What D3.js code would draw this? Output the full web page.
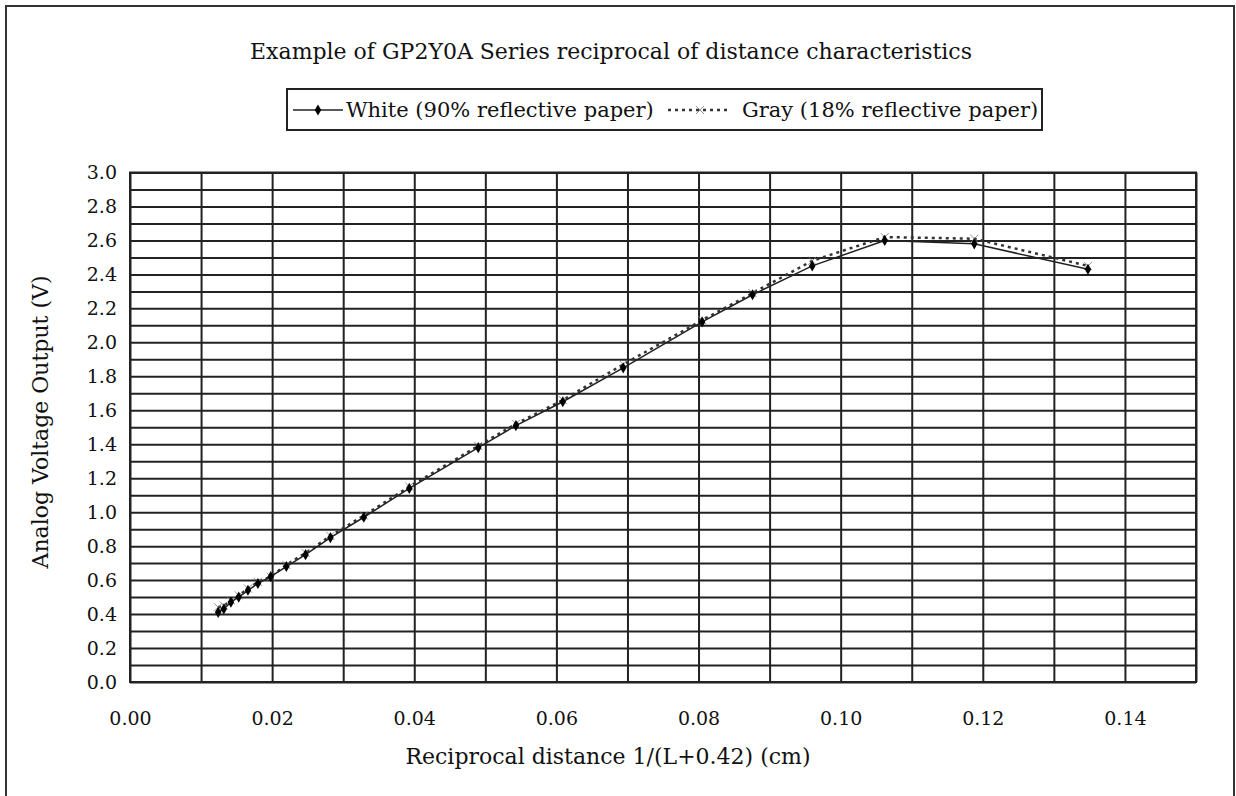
<!DOCTYPE html>
<html>
<head>
    <title>GP2Y0A reciprocal distance characteristics</title>
    <script src="https://d3js.org/d3.v7.min.js"></script>
    <style>
        body { margin: 0; background: #fff; }
        svg { display: block; }
        text { font-family: "DejaVu Serif", "Liberation Serif", serif; fill: #111; }
    </style>
</head>
<body>
    <div id="chart"></div>

    <script>
    // reciprocal distance 1/(L+0.42)
    const recip = [0.0124, 0.0132, 0.0142, 0.0153, 0.0166, 0.0180, 0.0198, 0.0220, 0.0247, 0.0282, 0.0329,
                   0.0393, 0.0490, 0.0543, 0.0609, 0.0694, 0.0805, 0.0876, 0.0960, 0.1062, 0.1188, 0.1348];
    const whiteV = [0.41, 0.43, 0.47, 0.50, 0.54, 0.58, 0.62, 0.68, 0.75, 0.85, 0.97,
                    1.14, 1.38, 1.51, 1.65, 1.85, 2.12, 2.28, 2.45, 2.60, 2.58, 2.43];
    const grayV  = [0.44, 0.45, 0.48, 0.51, 0.55, 0.59, 0.62, 0.69, 0.76, 0.86, 0.98,
                    1.15, 1.39, 1.52, 1.66, 1.87, 2.13, 2.29, 2.48, 2.62, 2.61, 2.45];

    const xTicks = [0, 0.02, 0.04, 0.06, 0.08, 0.10, 0.12, 0.14];
    const yTicks = [0, 0.2, 0.4, 0.6, 0.8, 1.0, 1.2, 1.4, 1.6, 1.8, 2.0, 2.2, 2.4, 2.6, 2.8, 3.0];
    const seriesNames = ["White (90% reflective paper)", "Gray (18% reflective paper)"];

    const W = 1236, H = 796;
    const margin = { top: 172.5, right: 40, bottom: 114, left: 130 };
    const width = W - margin.left - margin.right;
    const height = H - margin.top - margin.bottom;

    const root = d3.select("#chart").append("svg")
        .attr("width", W)
        .attr("height", H);

    // outer frame (open at the bottom of the picture)
    root.append("rect")
        .attr("x", 6).attr("y", 6)
        .attr("width", W - 8).attr("height", H + 20)
        .attr("fill", "none").attr("stroke", "#333").attr("stroke-width", 2);

    root.append("text")
        .attr("x", 611).attr("y", 59)
        .attr("text-anchor", "middle")
        .style("font-size", "22px")
        .text("Example of GP2Y0A Series reciprocal of distance characteristics");

    const svg = root.append("g")
        .attr("transform", `translate(${margin.left},${margin.top})`);

    const x = d3.scaleLinear().domain([0, 0.15]).range([0, width]);
    const y = d3.scaleLinear().domain([0, 3.0]).range([height, 0]);

    // grid
    svg.append("g")
        .attr("class", "grid-x")
        .attr("transform", `translate(0,${height})`)
        .call(d3.axisBottom(x).tickValues(d3.range(0, 16).map(i => i / 100)).tickSize(-height).tickFormat(""))
        .call(g => g.select(".domain").remove());
    svg.append("g")
        .attr("class", "grid-y")
        .call(d3.axisLeft(y).tickValues(d3.range(0, 31).map(i => i / 10)).tickSize(-width).tickFormat(""))
        .call(g => g.select(".domain").remove());
    svg.selectAll(".grid-x line, .grid-y line")
        .attr("stroke", "#222").attr("stroke-width", 2);
    svg.append("rect")
        .attr("width", width).attr("height", height)
        .attr("fill", "none").attr("stroke", "#222").attr("stroke-width", 2);

    // tick labels
    svg.append("g")
        .attr("transform", `translate(0,${height})`)
        .call(d3.axisBottom(x).tickValues(xTicks).tickSize(0).tickPadding(30).tickFormat(d3.format(".2f")))
        .call(g => g.select(".domain").remove())
        .selectAll("text").style("font-size", "19px").style("font-family", "DejaVu Serif");
    svg.append("g")
        .call(d3.axisLeft(y).tickValues(yTicks).tickSize(0).tickPadding(13).tickFormat(d3.format(".1f")))
        .call(g => g.select(".domain").remove())
        .selectAll("text").style("font-size", "19px").style("font-family", "DejaVu Serif");

    // axis titles
    root.append("text")
        .attr("x", 608).attr("y", 764)
        .attr("text-anchor", "middle")
        .style("font-size", "22px")
        .text("Reciprocal distance 1/(L+0.42) (cm)");
    root.append("text")
        .attr("transform", "translate(48,422) rotate(-90)")
        .attr("text-anchor", "middle")
        .style("font-size", "22px")
        .text("Analog Voltage Output (V)");

    const whiteData = recip.map((r, i) => ({ x: r, v: whiteV[i] }));
    const grayData = recip.map((r, i) => ({ x: r, v: grayV[i] }));
    const line = d3.line().x(d => x(d.x)).y(d => y(d.v));

    const diamond = d3.symbol().type(d3.symbolDiamond).size(36);
    const cross = d3.symbol().type(d3.symbolX).size(45);

    // gray: dotted line with x markers
    svg.append("path")
        .datum(grayData)
        .attr("d", line)
        .attr("fill", "none")
        .attr("stroke", "#333")
        .attr("stroke-width", 2.5)
        .attr("stroke-dasharray", "3,4");
    svg.selectAll(".gray-pt")
        .data(grayData)
        .join("path")
        .attr("class", "gray-pt")
        .attr("transform", d => `translate(${x(d.x)},${y(d.v)})`)
        .attr("d", cross)
        .attr("fill", "#777")
        .attr("stroke", "#777")
        .attr("stroke-width", 0.8);

    // white: solid line with diamonds
    svg.append("path")
        .datum(whiteData)
        .attr("d", line)
        .attr("fill", "none")
        .attr("stroke", "#222")
        .attr("stroke-width", 1.5);
    svg.selectAll(".white-pt")
        .data(whiteData)
        .join("path")
        .attr("class", "white-pt")
        .attr("transform", d => `translate(${x(d.x)},${y(d.v)})`)
        .attr("d", diamond)
        .attr("fill", "#000");

    // legend
    const lg = root.append("g").attr("transform", "translate(287,89)");
    lg.append("rect")
        .attr("width", 755).attr("height", 41)
        .attr("fill", "#fff").attr("stroke", "#222").attr("stroke-width", 2);
    lg.append("line")
        .attr("x1", 6).attr("x2", 56).attr("y1", 21).attr("y2", 21)
        .attr("stroke", "#222").attr("stroke-width", 1.5);
    lg.append("path")
        .attr("transform", "translate(31,21)")
        .attr("d", diamond).attr("fill", "#000");
    lg.append("text")
        .attr("x", 59).attr("y", 28)
        .style("font-size", "21px")
        .text(seriesNames[0]);
    lg.append("line")
        .attr("x1", 381).attr("x2", 441).attr("y1", 21).attr("y2", 21)
        .attr("stroke", "#333").attr("stroke-width", 2.5).attr("stroke-dasharray", "3,4");
    lg.append("path")
        .attr("transform", "translate(413,21)")
        .attr("d", cross).attr("fill", "#777").attr("stroke", "#777").attr("stroke-width", 0.8);
    lg.append("text")
        .attr("x", 455).attr("y", 28)
        .style("font-size", "21px")
        .text(seriesNames[1]);
    </script>
</body>
</html>
